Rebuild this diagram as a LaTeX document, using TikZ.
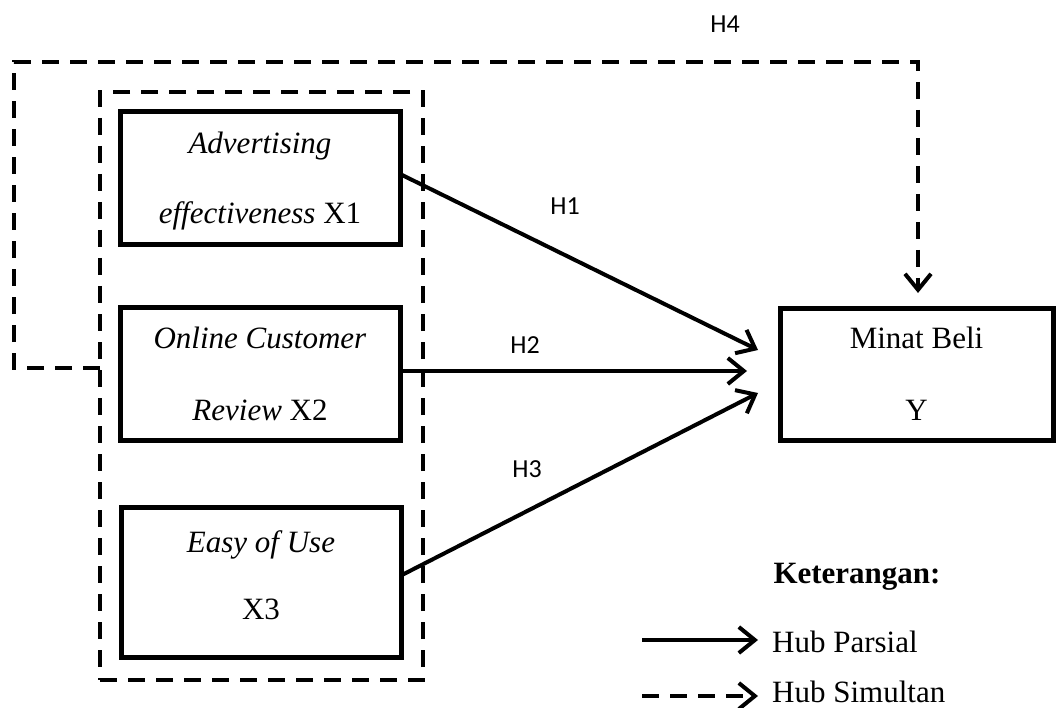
\documentclass[tikz,border=0pt]{standalone}
\usepackage{fontspec}
\setmainfont{Liberation Serif}
\newfontfamily\labelfont{Carlito}
\usetikzlibrary{arrows.meta}

\tikzset{
  varbox/.style={draw, line width=5pt, align=center, inner sep=0pt,
    font=\fontsize{31}{72}\selectfont},
  boxtext/.style={align=center, inner sep=0pt, font=\fontsize{31}{70}\selectfont},
  grpline/.style={line width=4pt, dash pattern=on 17pt off 11pt},
  rel/.style={line width=4pt, -{Straight Barb[length=16pt, width=26pt, line width=4pt]}},
  hlabel/.style={font=\labelfont\fontsize{26}{30}\selectfont},
  legtext/.style={anchor=base west, inner sep=0pt, font=\fontsize{31}{36}\selectfont}
}

\begin{document}
\begin{tikzpicture}[x=1pt, y=-1pt]
  \useasboundingbox (0,0) rectangle (1056,708);

  % independent variables
  \node[varbox, minimum width=280pt, minimum height=133pt] (x1) at (260,178.5) {};
  \node[boxtext] (x1t) at (260,181)
    {\textit{Advertising}\\\textit{effectiveness} X1};
  \node[varbox, minimum width=280pt, minimum height=133pt] (x2) at (260,373.5)
    {\textit{Online Customer}\\\textit{Review} X2};
  \node[varbox, minimum width=280pt, minimum height=150pt] (x3) at (261,582) {};
  \node[boxtext] (x3t) at (261,575) {\textit{Easy of Use}\\[-3pt]X3};

  % dependent variable
  \node[varbox, minimum width=273pt, minimum height=132pt] (y) at (916.5,374)
    {Minat Beli\\Y};

  % group frame around X1..X3
  \node[grpline, draw, minimum width=323pt, minimum height=588pt, inner sep=0pt] (grp) at (261.5,386) {};

  % arrow tip positions
  \coordinate (t1) at (758,350);
  \coordinate (t2) at (747,371);
  \coordinate (t3) at (758,393);
  \coordinate (t4) at (918,293);
  \coordinate (s1) at (400,174);
  \coordinate (s2) at (400,371);
  \coordinate (s3) at (400,576);

  % partial relations
  \draw[rel] (s1) -- (t1);
  \draw[rel] (s2) -- (t2);
  \draw[rel] (s3) -- (t3);

  % simultaneous relation
  \coordinate (h4a) at (100,368);
  \coordinate (h4b) at (14,368);
  \coordinate (h4c) at (14,62);
  \coordinate (h4d) at (918,62);
  \draw[rel, dash pattern=on 17pt off 11pt] (h4a) -- (h4b) -- (h4c) -- (h4d) -- (t4);

  % hypothesis labels
  \node[hlabel] (lh1) at (565,206) {H1};
  \node[hlabel] (lh2) at (525,345) {H2};
  \node[hlabel] (lh3) at (527,469) {H3};
  \node[hlabel] (lh4) at (725,24) {H4};

  % legend
  \node[font=\bfseries\fontsize{31}{36}\selectfont, anchor=base] (ket) at (857,583) {Keterangan:};
  \coordinate (la1) at (642,640);
  \coordinate (la2) at (758,640);
  \coordinate (lb1) at (642,696);
  \coordinate (lb2) at (758,696);
  \draw[rel] (la1) -- (la2);
  \draw[rel, dash pattern=on 17pt off 11pt] (lb1) -- (lb2);
  \node[legtext] (lpar) at (772,652) {Hub Parsial};
  \node[legtext] (lsim) at (772,702) {Hub Simultan};
\end{tikzpicture}
\end{document}
